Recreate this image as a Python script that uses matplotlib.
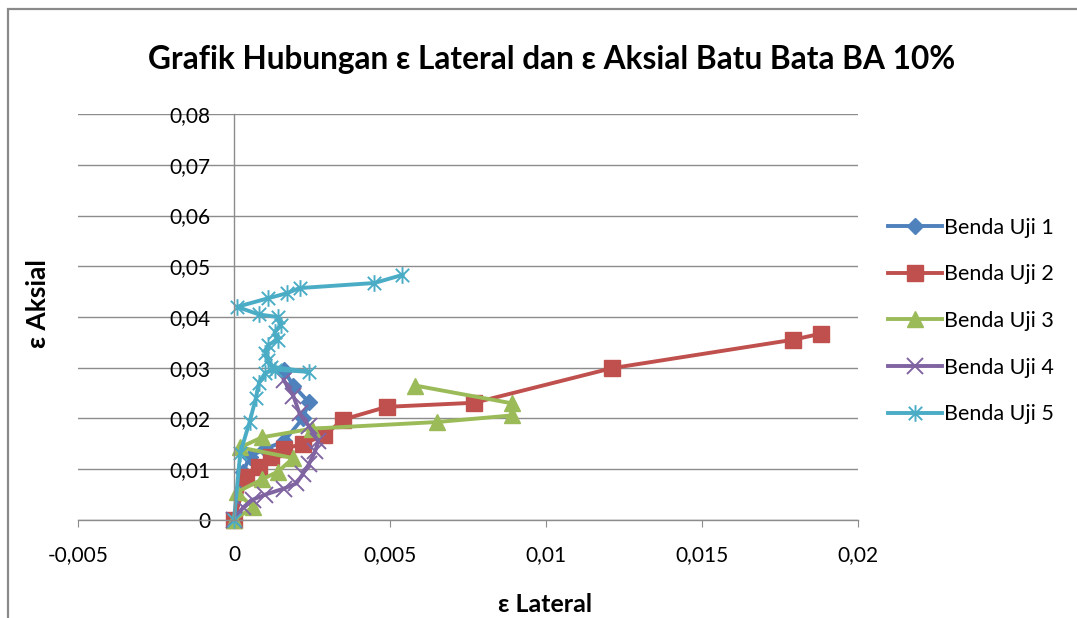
import matplotlib
matplotlib.use("Agg")
import matplotlib.pyplot as plt
from matplotlib.path import Path
from matplotlib.patches import Rectangle

plt.rcParams['font.family'] = ['Lato', 'DejaVu Sans']

# ---- data -------------------------------------------------------------
series_names = ["Benda Uji 1", "Benda Uji 2", "Benda Uji 3", "Benda Uji 4", "Benda Uji 5"]

lat_1 = [0, 0.0003, 0.0005, 0.0010, 0.0016, 0.0022, 0.0024, 0.0019, 0.0016]
aks_1 = [0, 0.0095, 0.0125, 0.0140, 0.0155, 0.0200, 0.0232, 0.0265, 0.0295]

lat_2 = [0, 0.0004, 0.0008, 0.0012, 0.0016, 0.0022, 0.0029, 0.0035, 0.0049,
         0.0077, 0.0121, 0.0179, 0.0188]
aks_2 = [0, 0.0085, 0.0105, 0.0125, 0.0140, 0.0150, 0.0167, 0.0198, 0.0223,
         0.0231, 0.0299, 0.0355, 0.0367]

lat_3 = [0, 0.0006, 0.0001, 0.0009, 0.0014, 0.0019, 0.0002, 0.0009, 0.0025,
         0.0065, 0.0089, 0.0089, 0.0058]
aks_3 = [0, 0.0025, 0.0055, 0.0080, 0.0095, 0.0122, 0.0143, 0.0163, 0.0180,
         0.0193, 0.0206, 0.0230, 0.0265]

lat_4 = [0, 0.0003, 0.0006, 0.0010, 0.0016, 0.0020, 0.0022, 0.0024, 0.0026,
         0.0027, 0.0024, 0.0021, 0.0019, 0.0016]
aks_4 = [0, 0.0025, 0.0040, 0.0050, 0.0062, 0.0072, 0.0090, 0.0110, 0.0135,
         0.0155, 0.0185, 0.0210, 0.0245, 0.0275]

lat_5 = [0, 0.0002, 0.0005, 0.0007, 0.0008, 0.0010, 0.0013, 0.0024, 0.0012,
         0.0011, 0.0010, 0.0011, 0.0014, 0.0013, 0.0015, 0.0014, 0.0008,
         0.0001, 0.0011, 0.0017, 0.0021, 0.0045, 0.0054]
aks_5 = [0, 0.0132, 0.0193, 0.0240, 0.0270, 0.0290, 0.0296, 0.0292, 0.0302,
         0.0315, 0.0330, 0.0345, 0.0355, 0.0370, 0.0385, 0.0400, 0.0405,
         0.0420, 0.0437, 0.0447, 0.0457, 0.0467, 0.0483]

x_ticks = [-0.005, 0, 0.005, 0.01, 0.015, 0.02]
x_tick_labels = ["-0,005", "0", "0,005", "0,01", "0,015", "0,02"]
y_ticks = [0, 0.01, 0.02, 0.03, 0.04, 0.05, 0.06, 0.07, 0.08]
y_tick_labels = ["0", "0,01", "0,02", "0,03", "0,04", "0,05", "0,06", "0,07", "0,08"]

title = "Grafik Hubungan ε Lateral dan ε Aksial Batu Bata BA 10%"
x_label = "ε Lateral"
y_label = "ε Aksial"

# ---- styling ----------------------------------------------------------
colors = ["#4F81BD", "#C0504D", "#9BBB59", "#8064A2", "#4BACC6"]
grid_gray = "#8C8C8C"

# asterisk marker: an "x" with a vertical bar through it
star = Path([(0, -1), (0, 1), (-0.8, -0.8), (0.8, 0.8), (-0.8, 0.8), (0.8, -0.8)],
            [Path.MOVETO, Path.LINETO, Path.MOVETO, Path.LINETO, Path.MOVETO, Path.LINETO])

marker_styles = [
    dict(marker="D", markersize=8),
    dict(marker="s", markersize=11),
    dict(marker="^", markersize=12),
    dict(marker="x", markersize=11, markeredgewidth=1.4),
    dict(marker=star, markersize=12, markeredgewidth=1.4),
]

fig = plt.figure(figsize=(10.77, 6.18), dpi=100)
ax = fig.add_axes([0.0724, 0.1586, 0.7243, 0.6569])

data = [(lat_1, aks_1), (lat_2, aks_2), (lat_3, aks_3), (lat_4, aks_4), (lat_5, aks_5)]
for (xs, ys), name, c, ms in zip(data, series_names, colors, marker_styles):
    ax.plot(xs, ys, color=c, linewidth=2.8, markerfacecolor=c, markeredgecolor=c,
            label=name, clip_on=False, **ms)

ax.set_xlim(-0.005, 0.02)
ax.set_ylim(0, 0.08)
ax.set_xticks(x_ticks)
ax.set_xticklabels(x_tick_labels)
ax.set_yticks(y_ticks)
ax.set_yticklabels(y_tick_labels)

ax.grid(axis="y", color=grid_gray, linewidth=1.0)
ax.set_axisbelow(True)

for s in ["top", "right"]:
    ax.spines[s].set_visible(False)
ax.spines["left"].set_position(("data", 0))
ax.spines["left"].set_color(grid_gray)
ax.spines["bottom"].set_color(grid_gray)
ax.spines["left"].set_linewidth(1.0)
ax.spines["bottom"].set_linewidth(1.0)

ax.tick_params(axis="x", direction="out", length=5, color=grid_gray, pad=13, labelsize=15)
ax.tick_params(axis="y", length=0, pad=17, labelsize=15)
for lbl in ax.get_yticklabels():
    lbl.set_zorder(5)

fig.text(0.512, 0.903, title, ha="center", va="center", fontsize=22.8, fontweight="bold")
fig.text(0.506, 0.022, x_label, ha="center", va="center", fontsize=18, fontweight="bold")
fig.text(0.035, 0.508, y_label, ha="center", va="center", rotation=90, fontsize=19,
         fontweight="bold")

leg = ax.legend(loc="upper left", bbox_to_anchor=(0.8245, 0.648), bbox_transform=fig.transFigure,
                frameon=False, fontsize=15.5, handlelength=2.5, handletextpad=0.12,
                labelspacing=1.24, borderaxespad=0, borderpad=0)

# chart border
fig.patches.append(Rectangle((7.5 / 1077, -0.2), 1.2, 1.2 - 8.5 / 618,
                             transform=fig.transFigure, fill=False,
                             edgecolor="#8A8A8A", linewidth=1.6))

fig.savefig("out.png", dpi=100, facecolor="white")
